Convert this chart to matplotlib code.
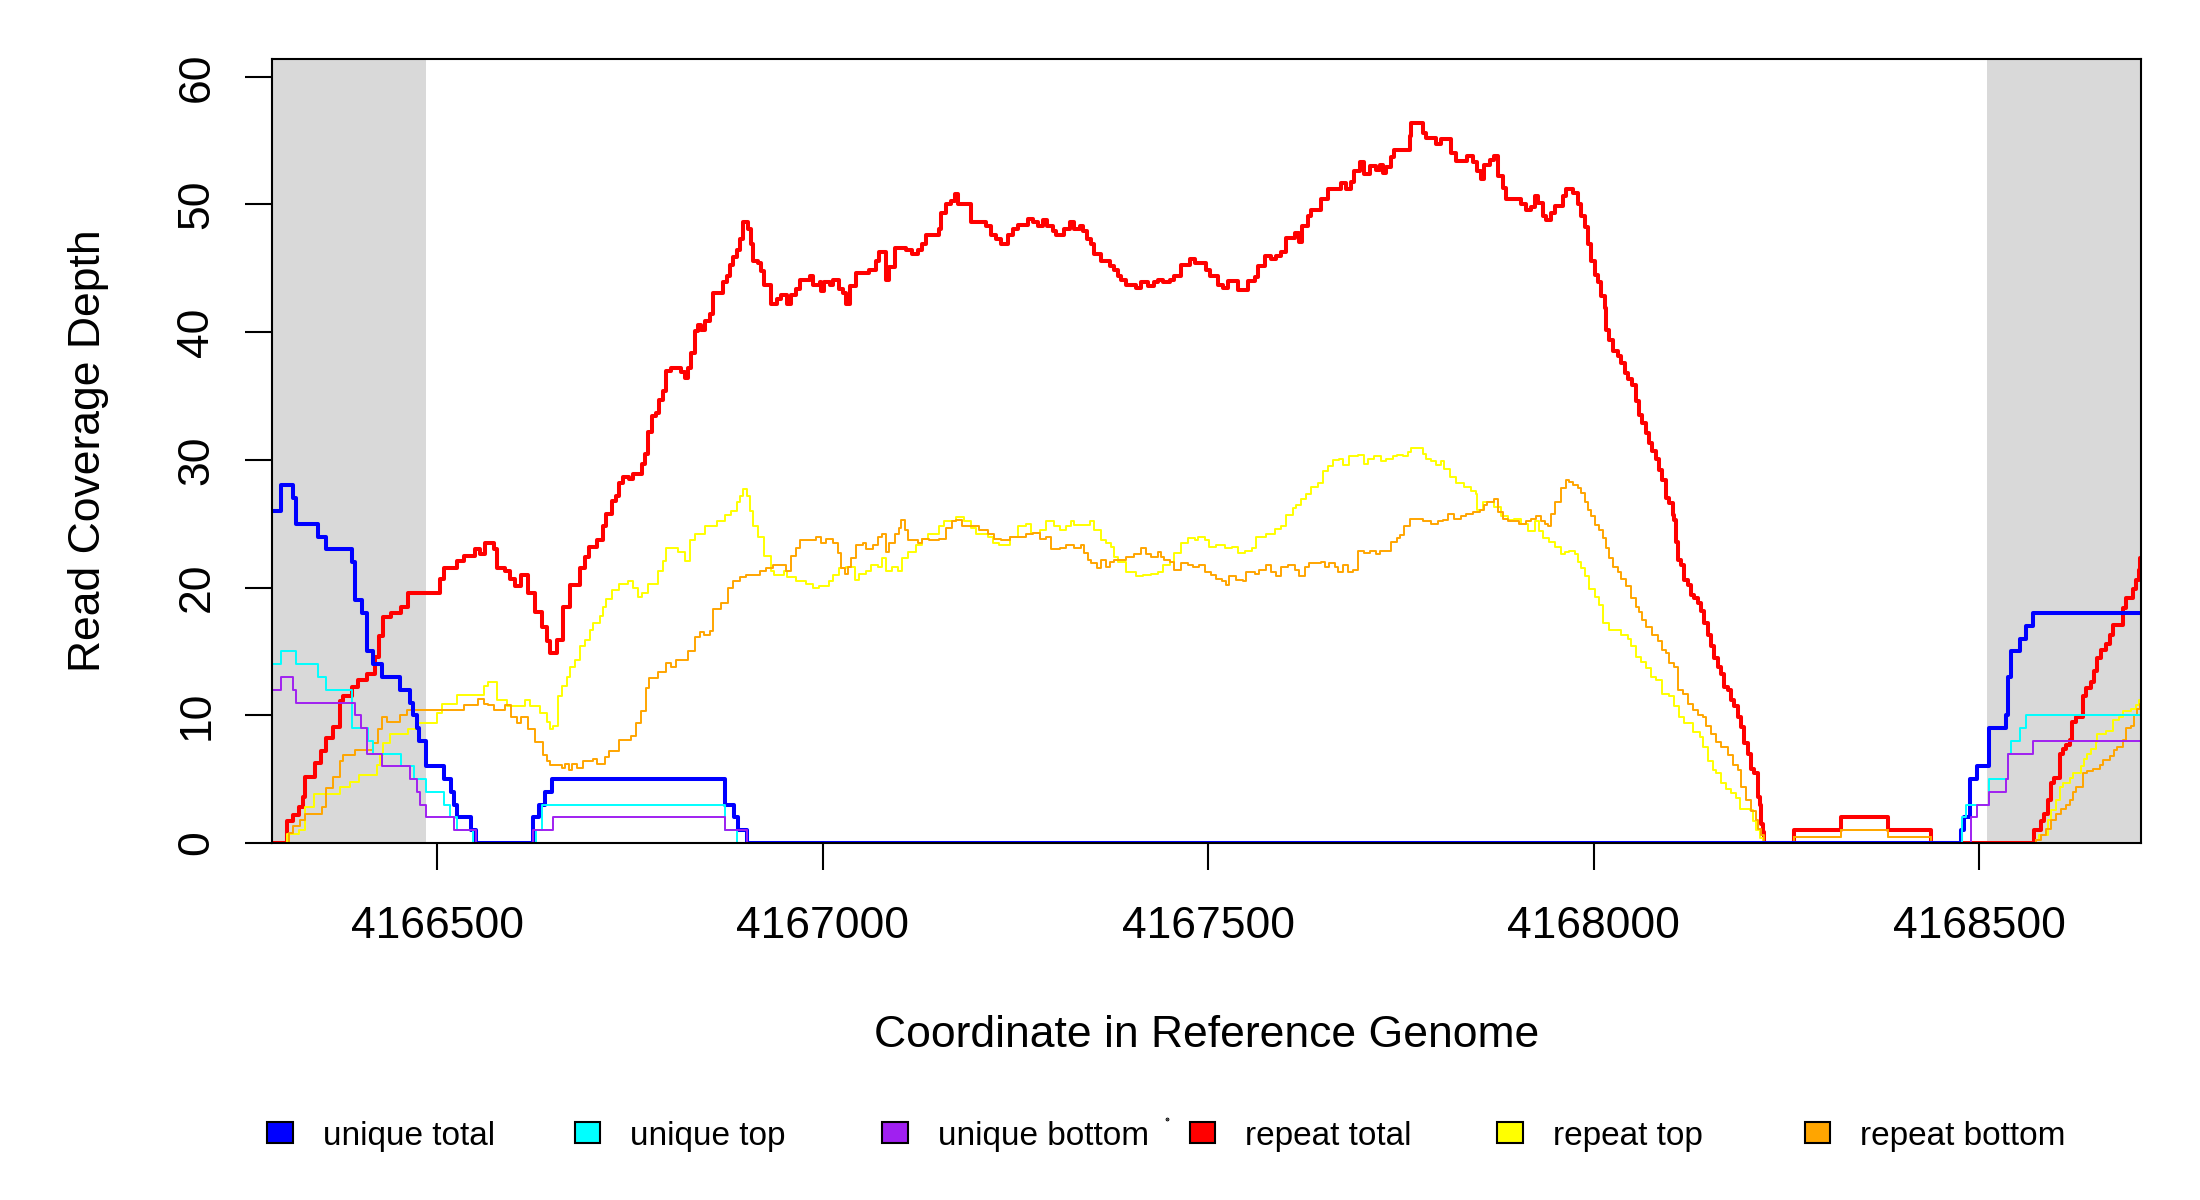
import matplotlib
matplotlib.use("Agg")
from matplotlib import pyplot as plt
from matplotlib.patches import Rectangle

plt.rcParams['font.family'] = ['Liberation Sans', 'DejaVu Sans']

# read coverage along the region, as (start position, depth) step points
unique_total_pos = [4166285, 4166297, 4166313, 4166316, 4166345, 4166356, 4166389, 4166393, 4166402, 4166409,
                    4166417, 4166428, 4166452, 4166464, 4166468, 4166473, 4166476, 4166485, 4166509, 4166517,
                    4166521, 4166525, 4166544, 4166550, 4166624, 4166632, 4166640, 4166648, 4166873, 4166885,
                    4166890, 4166901, 4168476, 4168480, 4168488, 4168497, 4168512, 4168534, 4168537, 4168541,
                    4168553, 4168560, 4168569, 4168710]
unique_total_depth = [26, 28, 27, 25, 24, 23, 22, 19, 18, 15,
                      14, 13, 12, 11, 10, 9, 8, 6, 5, 4,
                      3, 2, 1, 0, 2, 3, 4, 5, 3, 2,
                      1, 0, 1, 2, 5, 6, 9, 10, 13, 15,
                      16, 17, 18, 18]

unique_top_pos = [4166285, 4166297, 4166316, 4166345, 4166356, 4166389, 4166410, 4166417, 4166453, 4166469,
                  4166485, 4166509, 4166516, 4166525, 4166546, 4166628, 4166636, 4166873, 4166888, 4168478,
                  4168483, 4168512, 4168537, 4168541, 4168553, 4168561, 4168710]
unique_top_depth = [14, 15, 14, 13, 12, 9, 8, 7, 6, 5,
                    4, 3, 2, 1, 0, 1, 3, 1, 0, 2,
                    3, 5, 7, 8, 9, 10, 10]

unique_bottom_pos = [4166285, 4166297, 4166313, 4166317, 4166393, 4166401, 4166409, 4166428, 4166465, 4166473,
                     4166477, 4166485, 4166522, 4166550, 4166624, 4166650, 4166873, 4166901, 4168489, 4168497,
                     4168512, 4168534, 4168537, 4168569, 4168710]
unique_bottom_depth = [12, 13, 12, 11, 10, 9, 7, 6, 5, 4,
                       3, 2, 1, 0, 1, 2, 1, 0, 2, 3,
                       4, 5, 7, 8, 8]

repeat_total_pos = [
    4166285, 4166305, 4166313, 4166320, 4166325, 4166328, 4166341, 4166349, 4166356, 4166365,
    4166374, 4166378, 4166389, 4166397, 4166408, 4166419, 4166424, 4166429, 4166440, 4166453,
    4166462, 4166503, 4166508, 4166525, 4166534, 4166549, 4166555, 4166562, 4166573, 4166577,
    4166588, 4166594, 4166601, 4166609, 4166618, 4166627, 4166635, 4166642, 4166646, 4166655,
    4166663, 4166672, 4166685, 4166691, 4166696, 4166707, 4166715, 4166719, 4166726, 4166732,
    4166736, 4166741, 4166749, 4166754, 4166765, 4166769, 4166773, 4166778, 4166784, 4166788,
    4166793, 4166797, 4166803, 4166816, 4166821, 4166825, 4166829, 4166834, 4166838, 4166842,
    4166847, 4166853, 4166857, 4166870, 4166875, 4166879, 4166883, 4166888, 4166892, 4166896,
    4166903, 4166907, 4166909, 4166916, 4166920, 4166924, 4166933, 4166940, 4166946, 4166953,
    4166959, 4166965, 4166970, 4166983, 4166987, 4166996, 4166998, 4167002, 4167009, 4167013,
    4167021, 4167026, 4167030, 4167035, 4167043, 4167060, 4167069, 4167073, 4167082, 4167086,
    4167093, 4167108, 4167116, 4167123, 4167129, 4167134, 4167151, 4167153, 4167160, 4167166,
    4167171, 4167175, 4167192, 4167212, 4167218, 4167225, 4167231, 4167240, 4167246, 4167253,
    4167266, 4167272, 4167279, 4167285, 4167291, 4167298, 4167302, 4167313, 4167320, 4167326,
    4167333, 4167337, 4167342, 4167348, 4167352, 4167361, 4167372, 4167378, 4167383, 4167387,
    4167393, 4167406, 4167413, 4167421, 4167430, 4167434, 4167441, 4167450, 4167456, 4167465,
    4167476, 4167482, 4167497, 4167502, 4167512, 4167519, 4167525, 4167538, 4167551, 4167560,
    4167564, 4167573, 4167581, 4167588, 4167594, 4167601, 4167612, 4167618, 4167622, 4167629,
    4167633, 4167646, 4167655, 4167672, 4167679, 4167685, 4167689, 4167696, 4167702, 4167709,
    4167718, 4167722, 4167726, 4167731, 4167737, 4167741, 4167761, 4167763, 4167778, 4167782,
    4167795, 4167802, 4167815, 4167821, 4167836, 4167843, 4167849, 4167854, 4167858, 4167865,
    4167871, 4167875, 4167882, 4167886, 4167906, 4167912, 4167919, 4167923, 4167927, 4167934,
    4167938, 4167945, 4167949, 4167960, 4167964, 4167973, 4167979, 4167983, 4167988, 4167992,
    4167996, 4168001, 4168005, 4168009, 4168014, 4168016, 4168020, 4168025, 4168031, 4168035,
    4168040, 4168044, 4168050, 4168055, 4168059, 4168063, 4168068, 4168072, 4168076, 4168081,
    4168085, 4168089, 4168094, 4168098, 4168102, 4168104, 4168107, 4168109, 4168113, 4168117,
    4168122, 4168126, 4168130, 4168135, 4168139, 4168143, 4168148, 4168152, 4168156, 4168161,
    4168165, 4168169, 4168174, 4168178, 4168182, 4168187, 4168191, 4168195, 4168200, 4168204,
    4168208, 4168213, 4168215, 4168217, 4168219, 4168221, 4168260, 4168321, 4168381, 4168437,
    4168571, 4168580, 4168584, 4168589, 4168593, 4168597, 4168604, 4168608, 4168612, 4168617,
    4168620, 4168625, 4168634, 4168638, 4168645, 4168649, 4168653, 4168658, 4168664, 4168669,
    4168673, 4168686, 4168690, 4168699, 4168703, 4168707, 4168708, 4168710]
repeat_total_depth = [
    0, 1.7, 2.2, 2.8, 3.6, 5.2, 6.3, 7.2, 8.2, 9.1,
    11.1, 11.5, 12.2, 12.8, 13.2, 14.6, 16.2, 17.7, 18.0, 18.5,
    19.6, 20.7, 21.5, 22.1, 22.5, 23.0, 22.6, 23.5, 23.0, 21.5,
    21.3, 20.7, 20.1, 21.0, 19.6, 18.1, 16.9, 15.8, 14.9, 15.9,
    18.5, 20.2, 21.5, 22.4, 23.2, 23.7, 24.8, 25.8, 26.8, 27.2,
    28.2, 28.7, 28.5, 28.9, 29.7, 30.5, 32.2, 33.4, 33.7, 34.7,
    35.4, 37.0, 37.2, 36.9, 36.4, 37.2, 38.4, 40.1, 40.6, 40.2,
    40.9, 41.4, 43.1, 43.9, 44.4, 45.3, 45.9, 46.4, 47.3, 48.6,
    48.1, 46.9, 45.6, 45.4, 44.8, 43.7, 42.2, 42.6, 42.9, 42.2,
    42.9, 43.4, 44.1, 44.4, 43.7, 43.9, 43.2, 43.9, 43.7, 44.1,
    43.4, 43.1, 42.2, 43.6, 44.6, 44.9, 45.6, 46.3, 44.1, 45.1,
    46.6, 46.4, 46.1, 46.4, 46.9, 47.6, 48.1, 49.3, 50.0, 50.3,
    50.8, 50.0, 48.6, 48.3, 47.6, 47.3, 46.9, 47.6, 48.1, 48.4,
    48.9, 48.6, 48.3, 48.8, 48.3, 47.9, 47.6, 48.1, 48.6, 48.1,
    48.3, 47.9, 47.3, 46.9, 46.1, 45.6, 45.2, 44.9, 44.4, 44.1,
    43.7, 43.5, 43.9, 43.6, 43.9, 44.1, 43.9, 44.1, 44.4, 45.3,
    45.7, 45.4, 44.9, 44.4, 43.7, 43.5, 44.0, 43.3, 44.0, 44.3,
    45.2, 46.0, 45.7, 46.0, 46.3, 47.4, 47.8, 47.1, 48.3, 49.1,
    49.6, 50.4, 51.2, 51.7, 51.2, 51.8, 52.6, 53.3, 52.4, 53.0,
    52.7, 53.1, 52.5, 52.9, 53.7, 54.3, 55.4, 56.4, 55.6, 55.2,
    54.7, 55.1, 54.0, 53.4, 53.8, 53.3, 52.6, 52.0, 53.1, 53.5,
    53.8, 52.2, 51.3, 50.4, 50.0, 49.6, 49.8, 50.7, 50.1, 49.1,
    48.8, 49.3, 49.9, 50.7, 51.2, 50.9, 50.0, 49.1, 48.2, 46.9,
    45.6, 44.5, 43.9, 42.8, 41.9, 40.2, 39.4, 38.5, 38.1, 37.6,
    36.8, 36.3, 35.9, 34.6, 33.5, 32.9, 32.1, 31.3, 30.7, 30.1,
    29.2, 28.4, 27.0, 26.6, 25.7, 25.3, 23.6, 22.2, 21.8, 20.6,
    20.2, 19.4, 19.2, 18.8, 18.2, 17.2, 16.3, 15.4, 14.5, 13.8,
    13.2, 12.2, 12.0, 11.2, 10.7, 9.9, 9.1, 7.8, 7.0, 5.8,
    5.5, 3.6, 3.0, 1.5, 0.9, 0, 1, 2, 1, 0,
    1.0, 1.7, 2.3, 3.4, 4.7, 5.1, 7.0, 7.4, 7.7, 8.1,
    9.5, 9.9, 11.5, 12.1, 12.6, 13.5, 14.5, 15.1, 15.6, 16.3,
    17.1, 18.4, 19.2, 19.9, 20.6, 21.4, 22.3, 22.3]

repeat_top_pos = [
    4166285, 4166305, 4166320, 4166328, 4166340, 4166374, 4166387, 4166398, 4166421, 4166426,
    4166430, 4166439, 4166462, 4166473, 4166500, 4166506, 4166525, 4166560, 4166566, 4166577,
    4166590, 4166614, 4166620, 4166633, 4166642, 4166646, 4166650, 4166657, 4166661, 4166668,
    4166672, 4166678, 4166685, 4166691, 4166698, 4166702, 4166711, 4166715, 4166719, 4166726,
    4166736, 4166747, 4166754, 4166760, 4166765, 4166773, 4166786, 4166793, 4166797, 4166812,
    4166821, 4166827, 4166834, 4166847, 4166862, 4166873, 4166881, 4166888, 4166892, 4166896,
    4166901, 4166905, 4166909, 4166916, 4166924, 4166933, 4166937, 4166950, 4166954, 4166965,
    4166978, 4166987, 4166995, 4167008, 4167013, 4167021, 4167030, 4167041, 4167047, 4167056,
    4167062, 4167071, 4167077, 4167082, 4167090, 4167097, 4167103, 4167110, 4167121, 4167129,
    4167136, 4167151, 4167157, 4167172, 4167183, 4167192, 4167198, 4167214, 4167220, 4167229,
    4167242, 4167253, 4167263, 4167270, 4167281, 4167289, 4167300, 4167307, 4167315, 4167322,
    4167326, 4167346, 4167352, 4167361, 4167367, 4167374, 4167378, 4167383, 4167393, 4167406,
    4167415, 4167426, 4167434, 4167441, 4167450, 4167456, 4167465, 4167473, 4167482, 4167486,
    4167495, 4167501, 4167510, 4167521, 4167530, 4167538, 4167547, 4167556, 4167562, 4167575,
    4167586, 4167594, 4167601, 4167610, 4167614, 4167620, 4167627, 4167633, 4167642, 4167648,
    4167655, 4167661, 4167670, 4167674, 4167683, 4167694, 4167702, 4167707, 4167715, 4167724,
    4167731, 4167739, 4167744, 4167752, 4167759, 4167763, 4167778, 4167782, 4167789, 4167795,
    4167802, 4167806, 4167813, 4167821, 4167832, 4167841, 4167847, 4167849, 4167856, 4167871,
    4167880, 4167888, 4167897, 4167906, 4167914, 4167923, 4167929, 4167934, 4167942, 4167949,
    4167957, 4167962, 4167968, 4167975, 4167979, 4167983, 4167988, 4167994, 4168001, 4168007,
    4168012, 4168020, 4168035, 4168044, 4168048, 4168055, 4168061, 4168068, 4168074, 4168081,
    4168089, 4168098, 4168104, 4168111, 4168117, 4168128, 4168137, 4168141, 4168148, 4168154,
    4168159, 4168165, 4168171, 4168178, 4168184, 4168189, 4168202, 4168206, 4168210, 4168215,
    4168219, 4168260, 4168321, 4168381, 4168437, 4168573, 4168578, 4168589, 4168593, 4168599,
    4168604, 4168608, 4168617, 4168621, 4168632, 4168636, 4168640, 4168645, 4168651, 4168653,
    4168664, 4168673, 4168681, 4168686, 4168697, 4168703, 4168707, 4168710]
repeat_top_depth = [
    0, 0.7, 1.0, 2.8, 3.8, 4.4, 4.8, 5.3, 6.1, 6.9,
    7.8, 8.5, 8.9, 9.4, 10.2, 10.9, 11.6, 12.3, 12.6, 11.2,
    10.7, 11.2, 10.7, 10.2, 9.5, 8.9, 9.2, 11.5, 12.3, 13.0,
    13.8, 14.3, 15.4, 15.9, 16.7, 17.2, 17.8, 18.5, 19.1, 19.8,
    20.3, 20.5, 20.0, 19.3, 19.6, 20.3, 21.3, 22.1, 23.1, 22.8,
    22.1, 23.7, 24.2, 24.8, 25.2, 25.7, 26.0, 26.7, 27.2, 27.7,
    27.2, 26.0, 24.8, 24.0, 22.5, 21.3, 21.0, 21.3, 20.8, 20.5,
    20.3, 20.0, 20.1, 20.5, 21.0, 21.5, 21.6, 20.6, 21.1, 21.3,
    21.8, 21.6, 22.3, 21.3, 21.6, 21.3, 22.3, 22.8, 23.3, 23.8,
    24.2, 24.8, 25.2, 25.5, 25.2, 24.7, 24.2, 24.0, 23.5, 23.3,
    24.0, 24.8, 25.0, 24.3, 24.5, 25.2, 24.8, 24.5, 24.8, 25.2,
    24.9, 25.2, 24.5, 23.7, 23.5, 23.2, 22.4, 22.0, 21.2, 20.9,
    21.0, 21.1, 21.2, 21.8, 22.0, 22.7, 23.5, 23.9, 23.7, 24.0,
    23.7, 23.2, 23.3, 23.1, 23.2, 22.7, 22.9, 23.1, 24.0, 24.2,
    24.6, 24.8, 25.7, 26.2, 26.5, 26.9, 27.3, 27.9, 28.2, 29.1,
    29.5, 30.0, 30.1, 29.6, 30.3, 30.4, 29.7, 30.1, 30.3, 29.9,
    30.1, 30.3, 30.4, 30.3, 30.6, 30.9, 30.5, 30.1, 29.9, 29.6,
    29.9, 29.3, 28.7, 28.2, 27.9, 27.6, 27.3, 26.1, 26.7, 26.3,
    25.6, 25.3, 25.4, 25.0, 24.4, 25.2, 24.4, 23.9, 23.6, 23.2,
    22.6, 22.8, 22.9, 22.6, 22.0, 21.5, 20.9, 19.9, 19.3, 18.6,
    17.2, 16.7, 16.3, 16.0, 15.4, 14.6, 14.2, 13.7, 13.0, 12.8,
    11.7, 11.5, 10.7, 9.9, 9.4, 8.7, 8.3, 7.5, 6.4, 5.7,
    5.5, 4.7, 4.2, 3.9, 3.5, 2.7, 2.6, 1.7, 1.0, 0.4,
    0, 0.5, 1.0, 0.5, 0, 0.2, 0.6, 1.8, 2.6, 3.4,
    4.4, 4.7, 5.1, 5.5, 6.0, 6.6, 7.0, 7.4, 7.9, 8.5,
    8.8, 9.6, 9.9, 10.3, 10.5, 10.8, 11.2, 11.2]

repeat_bottom_pos = [
    4166285, 4166307, 4166313, 4166322, 4166328, 4166350, 4166356, 4166365, 4166374, 4166378,
    4166393, 4166417, 4166423, 4166428, 4166434, 4166452, 4166460, 4166534, 4166553, 4166560,
    4166566, 4166573, 4166588, 4166596, 4166603, 4166609, 4166618, 4166627, 4166637, 4166642,
    4166646, 4166661, 4166665, 4166670, 4166674, 4166681, 4166689, 4166702, 4166707, 4166717,
    4166723, 4166736, 4166751, 4166758, 4166764, 4166771, 4166775, 4166786, 4166797, 4166803,
    4166810, 4166825, 4166834, 4166840, 4166846, 4166853, 4166857, 4166868, 4166877, 4166883,
    4166892, 4166900, 4166918, 4166926, 4166935, 4166952, 4166959, 4166965, 4166970, 4166991,
    4166998, 4167004, 4167013, 4167019, 4167023, 4167028, 4167032, 4167036, 4167043, 4167052,
    4167056, 4167065, 4167071, 4167077, 4167082, 4167086, 4167093, 4167099, 4167101, 4167106,
    4167110, 4167123, 4167129, 4167138, 4167151, 4167160, 4167168, 4167173, 4167181, 4167203,
    4167214, 4167222, 4167231, 4167242, 4167263, 4167272, 4167281, 4167289, 4167296, 4167307,
    4167315, 4167326, 4167335, 4167339, 4167344, 4167348, 4167355, 4167361, 4167367, 4167372,
    4167378, 4167393, 4167404, 4167413, 4167419, 4167426, 4167434, 4167439, 4167443, 4167450,
    4167456, 4167465, 4167473, 4167480, 4167488, 4167495, 4167504, 4167510, 4167517, 4167523,
    4167527, 4167536, 4167545, 4167549, 4167560, 4167566, 4167575, 4167581, 4167588, 4167594,
    4167603, 4167612, 4167618, 4167625, 4167631, 4167646, 4167651, 4167657, 4167664, 4167668,
    4167674, 4167681, 4167687, 4167694, 4167702, 4167709, 4167718, 4167722, 4167737, 4167744,
    4167748, 4167754, 4167761, 4167778, 4167789, 4167798, 4167804, 4167811, 4167819, 4167828,
    4167834, 4167843, 4167852, 4167858, 4167862, 4167871, 4167875, 4167882, 4167888, 4167903,
    4167912, 4167919, 4167925, 4167932, 4167936, 4167940, 4167945, 4167949, 4167957, 4167964,
    4167968, 4167973, 4167979, 4167983, 4167988, 4167992, 4167996, 4168001, 4168007, 4168012,
    4168016, 4168020, 4168025, 4168031, 4168035, 4168042, 4168048, 4168055, 4168059, 4168063,
    4168068, 4168076, 4168083, 4168089, 4168094, 4168098, 4168104, 4168109, 4168115, 4168122,
    4168128, 4168135, 4168141, 4168146, 4168152, 4168159, 4168165, 4168174, 4168180, 4168187,
    4168191, 4168197, 4168204, 4168210, 4168213, 4168217, 4168221, 4168260, 4168321, 4168381,
    4168437, 4168573, 4168580, 4168586, 4168593, 4168599, 4168606, 4168612, 4168617, 4168621,
    4168625, 4168634, 4168640, 4168647, 4168656, 4168660, 4168669, 4168675, 4168679, 4168686,
    4168690, 4168697, 4168701, 4168705, 4168708, 4168710]
repeat_bottom_depth = [
    0, 0.75, 1.3, 1.8, 2.3, 2.8, 4.3, 5.2, 6.4, 6.9,
    7.3, 7.8, 8.9, 9.9, 9.5, 10.0, 10.4, 10.8, 11.3, 10.9,
    10.8, 10.4, 10.8, 9.9, 9.4, 9.9, 8.9, 7.9, 6.9, 6.4,
    6.1, 5.9, 6.2, 5.7, 6.2, 5.9, 6.4, 6.6, 6.2, 6.7,
    7.2, 8.1, 8.4, 9.4, 10.3, 12.1, 12.9, 13.4, 14.1, 13.8,
    14.3, 15.0, 16.1, 16.5, 16.3, 16.6, 18.3, 18.8, 20.0, 20.5,
    20.8, 21.0, 21.3, 21.5, 21.8, 21.3, 22.5, 23.1, 23.7, 24.0,
    23.5, 23.8, 23.5, 22.7, 21.5, 21.1, 21.6, 22.3, 23.3, 23.5,
    23.0, 23.3, 24.0, 24.2, 22.8, 23.5, 24.2, 24.7, 25.3, 24.5,
    23.7, 23.5, 23.8, 23.7, 23.8, 24.7, 25.2, 25.3, 24.8, 24.5,
    24.2, 23.8, 23.7, 24.0, 24.2, 24.3, 23.8, 24.0, 23.0, 23.1,
    23.3, 23.1, 23.3, 22.7, 22.2, 21.9, 21.5, 22.2, 21.6, 22.0,
    22.2, 22.4, 22.6, 23.1, 22.6, 22.4, 22.8, 22.4, 22.2, 22.0,
    21.4, 21.9, 21.8, 21.6, 21.8, 21.2, 21.0, 20.7, 20.5, 20.2,
    20.9, 20.6, 20.5, 21.2, 21.1, 21.4, 21.8, 21.2, 20.9, 21.6,
    21.8, 21.4, 20.9, 21.6, 21.9, 22.0, 21.6, 21.9, 21.6, 21.2,
    21.8, 21.2, 21.4, 22.9, 22.7, 22.9, 22.6, 22.9, 23.6, 23.9,
    24.1, 24.8, 25.4, 25.2, 25.0, 25.2, 25.3, 25.8, 25.4, 25.6,
    25.8, 25.9, 26.1, 26.5, 26.7, 26.9, 25.9, 25.4, 25.2, 25.0,
    25.2, 25.4, 25.6, 25.2, 25.0, 24.8, 25.8, 26.7, 27.8, 28.4,
    28.3, 28.0, 27.8, 27.4, 26.7, 26.1, 25.6, 24.9, 24.5, 23.9,
    23.1, 22.3, 21.6, 21.2, 20.7, 20.1, 19.2, 18.5, 18.1, 17.5,
    16.9, 16.3, 15.8, 15.1, 14.9, 14.1, 13.8, 12.0, 11.7, 10.9,
    10.4, 10.0, 9.9, 9.2, 8.5, 7.9, 7.5, 6.9, 6.1, 5.7,
    4.4, 3.4, 2.5, 1.8, 1.1, 0.6, 0, 0.5, 1.0, 0.5,
    0, 0.2, 0.6, 1.1, 1.8, 2.3, 2.7, 3.0, 3.4, 4.0,
    4.4, 5.5, 5.6, 5.8, 6.1, 6.5, 6.8, 7.3, 7.5, 8.1,
    9.0, 9.2, 10.0, 10.5, 10.9, 10.9]

series_names = ["unique total", "unique top", "unique bottom",
                "repeat total", "repeat top", "repeat bottom"]
series_colors = ["#0000FF", "#00FFFF", "#A020F0", "#FF0000", "#FFFF00", "#FFA500"]

region = (4166285, 4168710)
flanks = [(4166285, 4166485), (4168510, 4168710)]
ytick_vals = [0, 10, 20, 30, 40, 50, 60]
xtick_vals = [4166500, 4167000, 4167500, 4168000, 4168500]

fig = plt.figure(figsize=(11, 6), dpi=200)
ax = fig.add_axes([0.1235, 0.2975, 0.8498, 0.6534])

for lo, hi in flanks:
    ax.axvspan(lo, hi, color="#D9D9D9", lw=0, zorder=0)

# repeat series first, unique drawn over them
ax.step(repeat_total_pos, repeat_total_depth, where="post", color=series_colors[3], lw=1.45, zorder=2)
ax.step(repeat_top_pos, repeat_top_depth, where="post", color=series_colors[4], lw=0.7, zorder=3)
ax.step(repeat_bottom_pos, repeat_bottom_depth, where="post", color=series_colors[5], lw=0.7, zorder=4)
ax.step(unique_total_pos, unique_total_depth, where="post", color=series_colors[0], lw=1.45, zorder=5)
ax.step(unique_top_pos, unique_top_depth, where="post", color=series_colors[1], lw=0.7, zorder=6)
ax.step(unique_bottom_pos, unique_bottom_depth, where="post", color=series_colors[2], lw=0.7, zorder=7)

ax.set_xlim(*region)
ax.set_ylim(0, 61.4)
ax.set_xticks(xtick_vals)
ax.set_xticklabels([str(v) for v in xtick_vals])
ax.set_yticks(ytick_vals)
ax.set_yticklabels([str(v) for v in ytick_vals], rotation=90, va="center")
ax.tick_params(direction="out", length=9.6, width=0.75, labelsize=16, colors="black")
ax.tick_params(axis="x", pad=13)
ax.tick_params(axis="y", pad=10)
for s in ax.spines.values():
    s.set_linewidth(0.75)
    s.set_zorder(10)

fig.text(89 / 2200, 1 - 451 / 1200, "Read Coverage Depth", rotation=90,
         ha="center", va="center", fontsize=16)
fig.text(0.5484, 1 - 1047 / 1200, "Coordinate in Reference Genome",
         ha="center", va="baseline", fontsize=16)

# legend row along the bottom
for i, (name, col) in enumerate(zip(series_names, series_colors)):
    x0 = (267.2 + 307.5 * i) / 2200
    fig.patches.append(Rectangle((x0, 1 - 1143 / 1200), 25.5 / 2200, 21 / 1200,
                                 transform=fig.transFigure, facecolor=col,
                                 edgecolor="black", lw=0.75))
    fig.text((322.8 + 307.5 * i) / 2200, 1 - 1145 / 1200, name,
             ha="left", va="baseline", fontsize=12)
fig.add_artist(plt.Line2D([1166.7 / 2200], [1 - 1119 / 1200], marker="o", markersize=0.35,
                          color="black", transform=fig.transFigure))

fig.savefig("out.png", dpi=200)
